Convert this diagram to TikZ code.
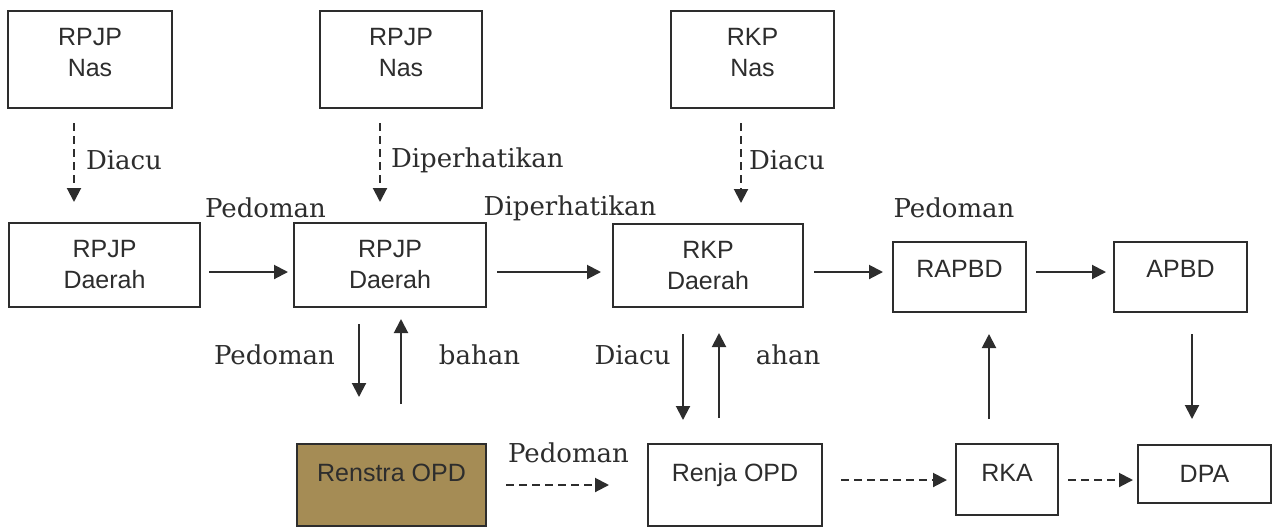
\documentclass[tikz,border=0pt]{standalone}
\usepackage{fontspec}
\setmainfont{DejaVu Serif}
\newfontfamily\boxfont{Liberation Sans}
\usetikzlibrary{arrows.meta}

\definecolor{renstrafill}{RGB}{165,140,85}
\definecolor{ink}{RGB}{45,45,45}

\begin{document}
\begin{tikzpicture}[x=0.5pt, y=-0.5pt,
  box/.style={draw=ink, line width=1pt, text=ink, align=center, inner sep=0pt,
    font=\boxfont\fontsize{12.5}{15.5}\selectfont},
  lbl/.style={text=ink, inner sep=0pt, font=\fontsize{13}{15}\selectfont},
  arr/.style={draw=ink, line width=1pt, -{Triangle[length=7pt,width=7pt]}},
  darr/.style={arr, dash pattern=on 4pt off 2.5pt}]
\useasboundingbox (0,0) rectangle (1279,526);

% national level
\node[box, minimum width=82pt, text height=32.75pt, text depth=15.75pt] (nas1) at (90,59.5) {RPJP\\Nas};
\node[box, minimum width=81pt, text height=32.75pt, text depth=15.75pt] (nas2) at (401,59.5) {RPJP\\Nas};
\node[box, minimum width=81.5pt, text height=32.75pt, text depth=15.75pt] (nas3) at (752.5,59.5) {RKP\\Nas};

% regional level
\node[box, minimum width=95.5pt, minimum height=42pt] (dae1) at (104.5,265) {RPJP\\Daerah};
\node[box, minimum width=96pt, minimum height=42pt] (dae2) at (390,265) {RPJP\\Daerah};
\node[box, minimum width=95pt, minimum height=41.5pt] (rkpd) at (708,265.5) {RKP\\Daerah};
\node[box, minimum width=66.5pt, text height=17.5pt, text depth=17.5pt] (rapbd) at (959.5,277) {RAPBD};
\node[box, minimum width=66.5pt, text height=17.5pt, text depth=17.5pt] (apbd) at (1180.5,277) {APBD};

% OPD level
\node[box, fill=renstrafill, anchor=north, minimum width=94.5pt, text height=18.75pt, text depth=22.25pt] (renstra) at (391.5,443) {Renstra OPD};
\node[box, anchor=north, minimum width=87pt, text height=18.75pt, text depth=22.25pt] (renja) at (735,443) {Renja OPD};
\node[box, anchor=north, minimum width=51pt, text height=18.75pt, text depth=16.75pt] (rka) at (1007,443) {RKA};
\node[box, minimum width=66.5pt, minimum height=29pt] (dpa) at (1204.5,474) {DPA};

% labels
\node[lbl] (ped1) at (265.5,208) {Pedoman};
\node[lbl] (dip1) at (570,208) {Diperhatikan};
\node[lbl] (ped2) at (954,208) {Pedoman};
\node[lbl] (ped3) at (274.5,355) {Pedoman};
\node[lbl] (bahan1) at (479.5,355) {bahan};
\node[lbl] (diacu3) at (632.5,355) {Diacu};
\node[lbl] (bahan2) at (788,355) {ahan};
\node[lbl] (ped4) at (568.5,453) {Pedoman};

% top-down
\draw[darr, shorten <=7pt, shorten >=10pt] ([xshift=-8pt]nas1.south) -- ([xshift=-8pt]nas1.south |- dae1.north)
  node[lbl, pos=0.45, right=5.5pt] (diacu1) {Diacu};
\draw[darr, shorten <=7pt, shorten >=10pt] ([xshift=-10.5pt]nas2.south) -- ([xshift=-10.5pt]nas2.south |- dae2.north)
  node[lbl, pos=0.45, right=5pt] (dip2) {Diperhatikan};
\draw[darr, shorten <=7pt, shorten >=10pt] ([xshift=-5.75pt]nas3.south) -- ([xshift=-5.75pt]nas3.south |- rkpd.north)
  node[lbl, pos=0.45, right=3.5pt] (diacu2) {Diacu};

% regional chain
\draw[arr, shorten <=4pt, shorten >=2.5pt] ([yshift=-3.5pt]dae1.east) -- ([yshift=-3.5pt]dae1.east -| dae2.west);
\draw[arr, shorten <=5pt, shorten >=5.5pt] ([yshift=-3.5pt]dae2.east) -- ([yshift=-3.5pt]dae2.east -| rkpd.west);
\draw[arr, shorten <=5pt, shorten >=4.5pt] ([yshift=-3.25pt]rkpd.east) -- ([yshift=-3.25pt]rkpd.east -| rapbd.west);
\draw[arr, shorten <=4.5pt, shorten >=3.5pt] ([yshift=2.5pt]rapbd.east) -- ([yshift=2.5pt]rapbd.east -| apbd.west);

% up and down
\draw[arr, shorten <=8pt, shorten >=23pt] ([xshift=-15.5pt]dae2.south) -- ([xshift=-15.5pt]dae2.south |- renstra.north);
\draw[arr, shorten <=19.5pt, shorten >=5.5pt] ([xshift=5.5pt]dae2.south |- renstra.north) -- ([xshift=5.5pt]dae2.south);
\draw[arr, shorten <=13pt, shorten >=11.5pt] ([xshift=-12.5pt]rkpd.south) -- ([xshift=-12.5pt]rkpd.south |- renja.north);
\draw[arr, shorten <=12.5pt, shorten >=12.5pt] ([xshift=5.5pt]rkpd.south |- renja.north) -- ([xshift=5.5pt]rkpd.south);
\draw[arr, shorten <=12pt, shorten >=10.5pt] ([xshift=-9pt]rka.north) -- ([xshift=-9pt]rka.north |- rapbd.south);
\draw[arr, shorten <=10.5pt, shorten >=12.5pt] ([xshift=5.75pt]apbd.south) -- ([xshift=5.75pt]apbd.south |- dpa.north);

% OPD chain
\draw[darr, shorten <=9.5pt, shorten >=19pt] ([yshift=-21pt]renstra.north east) -- ([yshift=-21pt]renstra.north east -| renja.west);
\draw[darr, shorten <=9pt, shorten >=4pt] ([yshift=-18.5pt]renja.north east) -- ([yshift=-18.5pt]renja.north east -| rka.west);
\draw[darr, shorten <=4.5pt, shorten >=2pt] ([yshift=-18.5pt]rka.north east) -- ([yshift=-18.5pt]rka.north east -| dpa.west);
\end{tikzpicture}
\end{document}
